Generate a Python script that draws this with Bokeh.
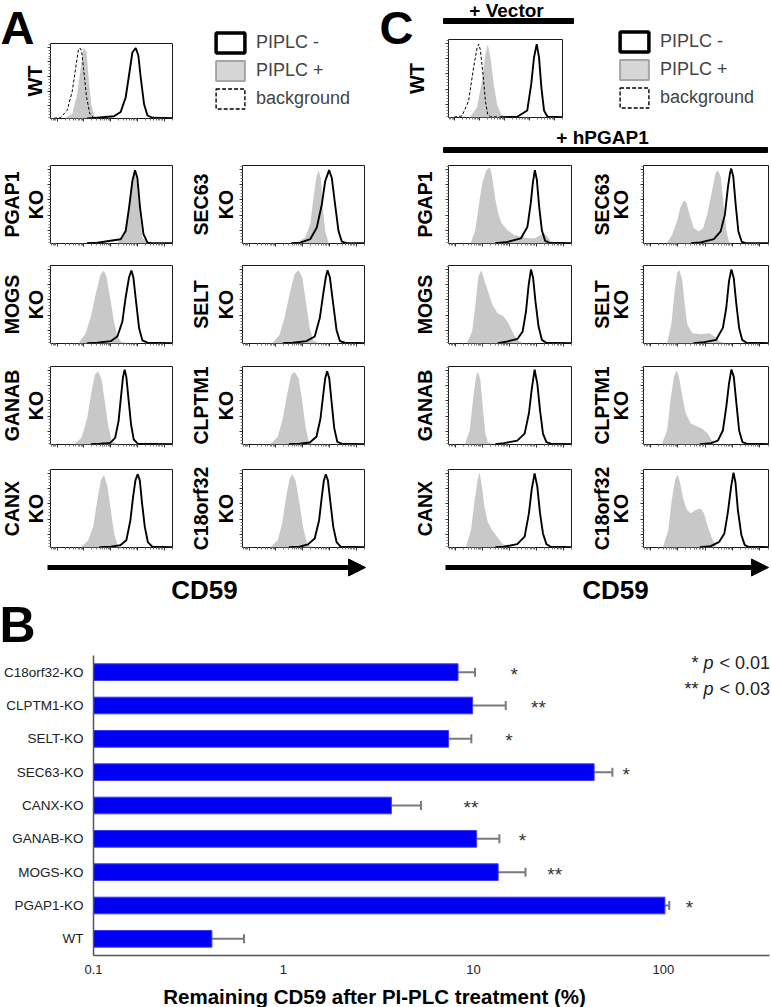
import math
from bokeh.plotting import figure
from bokeh.models import (Range1d, FactorRange, FixedTicker, ColumnDataSource, Whisker,
                          TeeHead, Arrow, NormalHead, Legend, LegendItem, CustomJSTickFormatter)
from bokeh.core.properties import value
from bokeh.embed import file_html
from bokeh.resources import INLINE

# ------------------------------------------------------------------ data: panel B
categories = ["WT", "PGAP1-KO", "MOGS-KO", "GANAB-KO", "CANX-KO",
              "SEC63-KO", "SELT-KO", "CLPTM1-KO", "C18orf32-KO"]
remaining_mean = [0.42, 101.9, 13.5, 10.4, 3.7, 43.2, 7.4, 9.9, 8.3]
remaining_sd = [0.20, 5.5, 5.3, 3.3, 1.6, 10.7, 2.35, 4.9, 1.9]
significance = ["", "*", "**", "*", "**", "*", "*", "**", "*"]
sig_label_x = [None, 137, 26.8, 18.1, 9.7, 63.8, 15.4, 22.0, 16.4]
x_tick_values = [0.1, 1, 10, 100]
p_marks = ["*", "**"]
p_levels = ["< 0.01", "< 0.03"]

# ------------------------------------------------------------------ data: panels A / C
left_rows = ["PGAP1", "MOGS", "GANAB", "CANX"]
right_rows = ["SEC63", "SELT", "CLPTM1", "C18orf32"]
legend_labels = ["PIPLC -", "PIPLC +", "background"]

# curves: (x % of axis, y % of box height)
A_WT_neg = [(30, 0), (38, 1), (52, 3), (57.5, 8.6), (61.6, 28), (64.4, 58), (67.1, 88), (69.9, 94), (72, 84), (74, 54), (76.7, 19), (79.5, 4), (83.6, 1), (100, 0.5)]
A_WT_pos = [(12.3, 1), (17.8, 6), (21.9, 32), (24.7, 66), (26.8, 92), (27.9, 94), (29.6, 88), (31.5, 49), (33.4, 19), (35.6, 4), (39.7, 1)]
A_WT_bg = [(3, 0.5), (8.2, 1), (13.7, 11), (17.8, 36), (20.5, 66), (22.7, 90), (24.1, 94), (25.5, 90), (27.4, 62), (29.6, 28), (32.3, 6), (35.6, 1), (45, 0.5)]

C_WT_bg = [(5, 0.5), (11.8, 2), (17.6, 21), (22, 64), (25, 89), (26.5, 94), (27.9, 87), (30.3, 55), (32.4, 21), (34.4, 4), (36.8, 1), (45, 0.5)]
C_WT_pos = [(19.1, 1), (25, 13), (29.4, 47), (32.4, 81), (34.4, 94), (36.8, 77), (39.7, 43), (42.6, 17), (46.2, 4), (50.9, 1)]
C_WT_neg = [(45, 0.5), (60.3, 1), (69.1, 9), (72.6, 43), (75, 77), (77.4, 94), (79.4, 77), (81.5, 38), (83.8, 9), (86.8, 1), (100, 0.5)]

A_PGAP1_neg = [(30, 0.5), (38.4, 1), (57.5, 5.5), (61.6, 16), (64.4, 46), (67.1, 80), (69.3, 94), (71.2, 84), (73.4, 46), (76.2, 12), (79.5, 1), (83.6, 0.5), (100, 0.5)]
A_PGAP1_pos = [(54.8, 1), (60.3, 10), (63.8, 42), (66.6, 80), (68.5, 94), (70.7, 80), (72.9, 42), (75.3, 8), (79.5, 0.5)]
A_SEC63_neg = [(40, 0.5), (47.3, 1), (55.5, 5.5), (60.9, 20.4), (65, 50), (67.8, 80), (71, 94), (73.2, 84), (75.9, 50), (78.7, 16), (81.4, 2.5), (85.5, 0.5), (100, 0.5)]
A_SEC63_pos = [(44.5, 1), (51.4, 7.7), (55.5, 24.7), (58.2, 59), (60.4, 84), (62.3, 94), (64.2, 84), (65.8, 46), (67.8, 16), (70.5, 1)]
A_MOGS_neg = [(30, 0.5), (38.4, 1), (49.3, 3), (54.8, 9), (58.9, 28), (61.6, 59), (64.4, 85), (66.3, 93.5), (67.9, 85), (70.4, 50), (72.6, 20), (75.3, 4), (79.5, 1), (100, 0.5)]
A_MOGS_pos = [(23.3, 1), (28.8, 13), (32.9, 33), (37, 63), (41.1, 89), (43.8, 93.5), (46, 85), (49.3, 54), (52.1, 28), (54.8, 9), (58.1, 2), (63, 1)]
A_SELT_neg = [(33, 0.5), (41.3, 1), (52.3, 3), (59.2, 9), (63.4, 33), (66.1, 63), (68.3, 85), (69.7, 94), (71.6, 85), (74.4, 50), (77.1, 17), (79.9, 3), (84, 1), (100, 0.5)]
A_SELT_pos = [(24.8, 1), (30.3, 11), (34.4, 33), (38.6, 63), (42.7, 89), (46, 94), (49, 85), (52.3, 50), (55.1, 20), (57.9, 4), (62, 1)]
A_GANAB_neg = [(33, 0.5), (40.6, 1), (48.9, 2), (53, 8.6), (55.8, 30), (57.7, 60), (59.4, 86), (60.8, 96), (62.2, 86), (64.1, 56), (66, 26), (68.2, 6.5), (71.5, 1), (100, 0.5)]
A_GANAB_pos = [(19.9, 1), (25.4, 8.6), (30.1, 34), (33.7, 69), (36.5, 90), (39.2, 94), (42, 82), (44.8, 52), (47.5, 22), (50.3, 4), (54.4, 1)]
A_CLPTM1_neg = [(38, 0.5), (46.8, 1), (55.1, 2.6), (60.6, 10), (63.9, 33), (66.1, 63), (67.8, 85), (69.4, 94), (71.1, 85), (73, 55), (75.2, 21), (77.7, 3.4), (81.3, 1), (100, 0.5)]
A_CLPTM1_pos = [(23.4, 1), (28.9, 10), (33, 33), (36.4, 63), (39.9, 89), (42.7, 93), (46, 85), (49, 55), (51.8, 21), (54.5, 3.4), (57.9, 1)]
A_CANX_neg = [(40, 0.5), (49.4, 1), (57.2, 3), (62.2, 9.4), (65.5, 35), (67.7, 65), (69.6, 86), (71.5, 94), (73.2, 86), (75.1, 56), (77.3, 26.5), (79.8, 7), (83.4, 1), (100, 0.5)]
A_CANX_pos = [(25.4, 1), (30.9, 9.4), (35, 26.5), (38.4, 61), (41.2, 86), (43.9, 93), (46.7, 78), (49.4, 48), (52.2, 18), (55, 3), (58.6, 1)]
A_C18orf32_neg = [(38, 0.5), (46.8, 1), (53.7, 4), (59.2, 11.5), (62.8, 35), (65, 65), (66.7, 86), (68.3, 94), (70, 86), (72.2, 56), (74.4, 26.5), (77.1, 7), (80.4, 1), (100, 0.5)]
A_C18orf32_pos = [(23.4, 1), (28.9, 9.4), (32.5, 31), (35.8, 65), (38.6, 88), (40.8, 94), (43.5, 86), (46.8, 56), (49.6, 26.5), (52.9, 5), (56.5, 1)]

C_PGAP1_neg = [(38, 0.5), (48, 2), (58.8, 6.5), (64.2, 21.5), (66.9, 52), (68.6, 78), (70.2, 94), (71.8, 82), (73.7, 47.4), (75.9, 17), (78.6, 3.4), (81.8, 1), (100, 0.5)]
C_PGAP1_pos = [(18.2, 1), (21.7, 17), (24.9, 52), (27.6, 78), (30.4, 93), (32.2, 96), (33.9, 97), (35.8, 82), (37.7, 60), (40.4, 39), (43.1, 26), (48, 17), (53.4, 11), (61.5, 7.8), (69.6, 6.5), (75, 11), (77.8, 13), (80.5, 8.6), (83.2, 3), (85.9, 1)]
C_SEC63_neg = [(38, 0.5), (45.6, 1.3), (56.3, 5.7), (61.7, 15.4), (65.1, 37), (67.6, 73), (69.2, 90), (70.2, 96), (71.8, 86), (73.7, 50.6), (75.9, 15.4), (78.6, 2.2), (81.8, 0.5), (100, 0.5)]
C_SEC63_pos = [(18.8, 1), (22.8, 11), (26.8, 28.6), (29.5, 46), (32.2, 55), (34.3, 53), (36.9, 37), (40.2, 20), (44.2, 15.4), (47.7, 20), (50.9, 37), (54.9, 68), (57.6, 90), (59.5, 94), (61.7, 86), (64.3, 46), (66.5, 15.4), (68.4, 2), (71, 0.5)]
C_MOGS_neg = [(40, 0.5), (47.9, 2.6), (56.2, 6), (60.3, 15.5), (63, 41), (65.2, 75.5), (67.1, 95), (68.8, 84), (70.7, 54), (73.2, 22), (75.9, 4.7), (79.5, 1), (100, 0.5)]
C_MOGS_pos = [(15.1, 1), (19.2, 15.5), (21.9, 50), (24.1, 84), (26, 93), (27.4, 91), (29.3, 80), (32.1, 67), (35.6, 50), (39.7, 39), (44.7, 35), (47.9, 28), (50.7, 20), (53.4, 11), (56.7, 3.4), (60.3, 1)]
C_SELT_neg = [(40, 0.5), (48.6, 1.7), (58.1, 4.7), (63.5, 20), (66.2, 45.5), (68.4, 80), (70.3, 95), (72.2, 84), (74.3, 50), (76.5, 20), (78.9, 4.7), (82.4, 1), (100, 0.5)]
C_SELT_pos = [(18.9, 1), (22.2, 24), (24.9, 67), (27, 91), (28.9, 94), (31.1, 80), (33, 50), (35.1, 24), (39.2, 13), (45.9, 12), (52.7, 13), (56.8, 9), (60.8, 2.6), (64.9, 1)]
C_GANAB_neg = [(38, 0.5), (45, 1.7), (55.9, 5), (61.9, 14), (65.4, 40), (67.6, 70), (70, 96), (72.2, 78), (74.4, 44), (76.8, 14), (79.6, 3), (83.1, 1), (100, 0.5)]
C_GANAB_pos = [(13.6, 1.7), (17.2, 18), (19.9, 57), (22.3, 87), (24, 93.5), (25.9, 83), (28.1, 44), (30, 14), (31.9, 3), (35.4, 1)]
C_CLPTM1_neg = [(45, 0.5), (54, 1.7), (59.5, 5), (63.5, 18), (66.2, 48), (68.4, 78), (70.3, 96), (72.2, 87), (74.3, 53), (76.5, 18), (79.2, 3), (82.4, 1), (100, 0.5)]
C_CLPTM1_pos = [(14.9, 1.7), (18.9, 18), (21.6, 57), (24.3, 87), (26.5, 95), (28.4, 87), (31.1, 61), (33.8, 40), (37.8, 27), (43.2, 23), (47.3, 20), (51.4, 14), (54.6, 5), (56.8, 1.7)]
C_CANX_neg = [(38, 0.5), (45, 1), (55.9, 4.3), (61.9, 14), (65.4, 44), (67.6, 74), (70, 95), (72.2, 78), (74.4, 44), (76.8, 18), (79.6, 4.3), (83.1, 1), (100, 0.5)]
C_CANX_pos = [(14.4, 1.7), (18.3, 22), (21.3, 61), (23.7, 87), (25.3, 96), (27.2, 78), (29.2, 52), (31.9, 33), (35.4, 22), (39.5, 14), (43.6, 5), (47.7, 1.7)]
C_C18orf32_neg = [(45, 0.5), (53.8, 1.7), (60.6, 7.3), (64.7, 18), (67.4, 44), (70.1, 78), (72, 96), (73.6, 83), (75.5, 48), (78.3, 16), (81, 3), (83.7, 1), (100, 0.5)]
C_C18orf32_pos = [(15.8, 1.7), (19.8, 22), (22.6, 61), (25.3, 87), (27.4, 93.5), (29.3, 82.8), (32, 61), (34.8, 48), (38, 44), (41.6, 48), (45.7, 50), (48.4, 44), (51.6, 26), (55.2, 9.5), (57.9, 1.7)]

A_left = [(A_PGAP1_neg, A_PGAP1_pos), (A_MOGS_neg, A_MOGS_pos), (A_GANAB_neg, A_GANAB_pos), (A_CANX_neg, A_CANX_pos)]
A_right = [(A_SEC63_neg, A_SEC63_pos), (A_SELT_neg, A_SELT_pos), (A_CLPTM1_neg, A_CLPTM1_pos), (A_C18orf32_neg, A_C18orf32_pos)]
C_left = [(C_PGAP1_neg, C_PGAP1_pos), (C_MOGS_neg, C_MOGS_pos), (C_GANAB_neg, C_GANAB_pos), (C_CANX_neg, C_CANX_pos)]
C_right = [(C_SEC63_neg, C_SEC63_pos), (C_SELT_neg, C_SELT_pos), (C_CLPTM1_neg, C_CLPTM1_pos), (C_C18orf32_neg, C_C18orf32_pos)]

# ------------------------------------------------------------------ styling / layout
FONT = "Liberation Sans"
GRAY = "#c8c8c8"
W, H = 771, 1007
ROW_TOPS = [165, 265, 366, 469]
ROW_H = 78


def place(x, y):
    return {"position": "absolute", "left": f"{x}px", "top": f"{y}px"}


# histogram axis ticks (log decades)
DEC = 21.9
x_major = [5.5 + DEC * i for i in range(5)]
x_minor = [m + DEC * math.log10(k) for m in [x_major[0] - DEC] + x_major for k in range(2, 10)]
x_minor = [v for v in x_minor if 0 <= v <= 100]
y_major = [17, 36.5, 56, 75.5, 95]
y_minor = [17 - 3.9 * k for k in range(1, 5)] + [m + 3.9 * k for m in y_major for k in range(1, 5)]
y_minor = [v for v in y_minor if 0 <= v <= 100]
BLANK = CustomJSTickFormatter(code="return '';")


def hist(box, neg, pos=None, bg=None):
    left, top, w, h = box
    bl, bb, bt, br = 14, 14, 2, 2
    p = figure(width=w + bl + br, height=h + bt + bb, x_range=Range1d(0, 100), y_range=Range1d(0, 100),
               min_border_left=bl, min_border_right=br, min_border_top=bt, min_border_bottom=bb,
               toolbar_location=None, output_backend="svg", border_fill_color=None,
               background_fill_color="white", outline_line_color="#1a1a1a", outline_line_width=1,
               styles=place(left - bl, top - bt))
    p.grid.visible = False
    for ax, maj, mnr in ((p.xaxis, x_major, x_minor), (p.yaxis, y_major, y_minor)):
        ax.ticker = FixedTicker(ticks=maj, minor_ticks=mnr)
        ax.formatter = BLANK
        ax.major_label_text_font_size = "2px"
        ax.major_label_standoff = 0
        ax.axis_line_color = None
        ax.major_tick_in = 0
        ax.major_tick_out = 3
        ax.minor_tick_in = 0
        ax.minor_tick_out = 2
        ax.major_tick_line_color = "#333333"
        ax.minor_tick_line_color = "#777777"
    if pos:
        p.varea(x=[q[0] for q in pos], y1=0, y2=[q[1] for q in pos], fill_color=GRAY)
    if bg:
        p.line([q[0] for q in bg], [q[1] for q in bg], line_color="black", line_width=1, line_dash="3 2")
    p.line([q[0] for q in neg], [q[1] for q in neg], line_color="black", line_width=1.9)
    return p


def bare(width, height, left, top, xr, yr):
    p = figure(width=width, height=height, x_range=xr, y_range=yr,
               x_axis_location=None, y_axis_location=None, min_border=0,
               toolbar_location=None, output_backend="svg", outline_line_color=None,
               background_fill_color=None, border_fill_color=None, styles=place(left, top))
    p.grid.visible = False
    return p


def legend_fig(left, top):
    p = bare(170, 90, left, top, Range1d(0, 1), Range1d(0, 1))
    off = [5, 6, 6]  # swatch source shapes lie outside the visible range
    r1 = p.patch(x=off, y=[5, 5, 6], fill_color="white", line_color="black", line_width=3.5)
    r2 = p.patch(x=off, y=[5, 5, 6], fill_color="#d6d6d6", line_color="#a6a6a6", line_width=2)
    r3 = p.patch(x=off, y=[5, 5, 6], fill_color="white", line_color="black", line_width=1.4, line_dash="4 2")
    leg = Legend(items=[LegendItem(label=lab, renderers=[r]) for lab, r in zip(legend_labels, (r1, r2, r3))],
                 location="top_left", glyph_width=36, glyph_height=25, spacing=3, label_standoff=8,
                 label_text_font=FONT, label_text_font_size="18px", padding=0, margin=0,
                 border_line_color=None, background_fill_alpha=0)
    p.add_layout(leg)
    return p


# ------------------------------------------------------------------ decoration canvas
dec = bare(W, H, 0, 0, Range1d(0, W), Range1d(H, 0))


def txt(x, y, s, size, bold=True, angle=0.0, align="center", style=None, color="black"):
    # y is the vertical centre of the text line
    dec.text(x=[x], y=[y], text=[s], angle=angle, text_align=align, text_baseline="middle",
             text_font=value(FONT), text_font_size=f"{size}px",
             text_font_style=style if style else ("bold" if bold else "normal"), text_color=color)


# panel letters
txt(0, 26.5, "A", 47, align="left")
txt(379, 26.5, "C", 47, align="left")
txt(-1, 624, "B", 50, align="left")

# row labels (rotated)
V = math.pi / 2
txt(34, 80.5, "WT", 20, angle=V)
txt(416, 78, "WT", 20, angle=V)
for i in range(4):
    cy = ROW_TOPS[i] + ROW_H / 2
    txt(11, cy, left_rows[i], 19.5, angle=V)
    txt(35.5, cy, "KO", 19.5, angle=V)
    txt(200, cy, right_rows[i], 19.5, angle=V)
    txt(225.5, cy, "KO", 19.5, angle=V)
    txt(424.5, cy, left_rows[i], 19.5, angle=V)
    txt(601.5, cy, right_rows[i], 19.5, angle=V)
    txt(620.5, cy, "KO", 19.5, angle=V)

# panel C headers
txt(506, 9.5, "+ Vector", 19)
dec.quad(left=443, right=573, top=18, bottom=23, color="black")
txt(602, 136.5, "+ hPGAP1", 19)
dec.quad(left=443, right=767, top=147, bottom=152, color="black")

# CD59 arrows
for x0, x1 in ((47, 365), (445, 768)):
    dec.segment(x0=[x0], y0=[567], x1=[x1 - 12], y1=[567], line_width=5, line_color="black")
    dec.add_layout(Arrow(end=NormalHead(size=17, fill_color="black", line_color="black"),
                         x_start=x1 - 16, y_start=567, x_end=x1, y_end=567, line_alpha=0))
txt(204, 589, "CD59", 26)
txt(615, 589, "CD59", 26)

# panel B title and p-value key
txt(374, 996, "Remaining CD59 after PI-PLC treatment (%)", 20.5)
for i, (mk, lv) in enumerate(zip(p_marks, p_levels)):
    cy = 662 + 26.5 * i
    txt(698, cy, mk, 18, bold=False, align="right", color="#222222")
    txt(703, cy, "p", 18, style="italic", align="left", color="#222222")
    txt(719, cy, lv, 18, bold=False, align="left", color="#222222")

# ------------------------------------------------------------------ histograms
hists = [hist((50, 43, 122, 75), A_WT_neg, A_WT_pos, A_WT_bg),
         hist((448, 39, 114, 78), C_WT_neg, C_WT_pos, C_WT_bg)]
for i in range(4):
    hists.append(hist((50, ROW_TOPS[i], 122, ROW_H), *A_left[i]))
    hists.append(hist((242, ROW_TOPS[i], 122, ROW_H), *A_right[i]))
    hists.append(hist((448, ROW_TOPS[i], 123, ROW_H), *C_left[i]))
    hists.append(hist((643, ROW_TOPS[i], 125, ROW_H), *C_right[i]))

legends = [legend_fig(212, 30), legend_fig(616, 29)]

# ------------------------------------------------------------------ panel B bar chart
X_START = 0.1
src = ColumnDataSource(dict(cat=categories, val=remaining_mean,
                            lo=[m - s for m, s in zip(remaining_mean, remaining_sd)],
                            hi=[m + s for m, s in zip(remaining_mean, remaining_sd)]))
pb = figure(width=W, height=367, y_range=FactorRange(factors=categories),
            x_range=Range1d(X_START, 362), x_axis_type="log",
            min_border_left=93, min_border_right=2, min_border_top=15, min_border_bottom=52,
            toolbar_location=None, output_backend="svg", outline_line_color=None,
            background_fill_color=None, border_fill_color=None, styles=place(0, 640))
pb.grid.visible = False
pb.hbar(y="cat", left=X_START, right="val", height=0.5, source=src,
        fill_color="#0000f2", line_color="#3c3cff", line_width=1)
pb.add_layout(Whisker(source=src, base="cat", lower="lo", upper="hi", dimension="width",
                      line_color="#7a7a7a", line_width=2,
                      upper_head=TeeHead(size=9, line_color="#7a7a7a", line_width=2),
                      lower_head=TeeHead(size=9, line_color="#7a7a7a", line_width=2)))
star_src = ColumnDataSource(dict(
    x=[x for x in sig_label_x if x is not None],
    cat=[c for c, x in zip(categories, sig_label_x) if x is not None],
    s=[s for s, x in zip(significance, sig_label_x) if x is not None]))
pb.text(x="x", y="cat", text="s", source=star_src, text_align="center", text_baseline="alphabetic",
        y_offset=2, text_font=value(FONT), text_font_size="19px", text_color="#333333")

pb.xaxis.ticker = FixedTicker(ticks=x_tick_values, minor_ticks=[])
pb.xaxis.formatter = CustomJSTickFormatter(code="return tick < 1 ? tick.toFixed(1) : tick.toFixed(0);")
for ax in (pb.xaxis, pb.yaxis):
    ax.major_tick_in = 0
    ax.major_tick_out = 0
    ax.minor_tick_in = 0
    ax.minor_tick_out = 0
    ax.axis_line_color = "#555555"
    ax.axis_line_width = 1.5
    ax.major_label_text_font = FONT
    ax.major_label_text_color = "#222222"
pb.xaxis.major_label_text_font_size = "13px"
pb.xaxis.major_label_standoff = 9
pb.yaxis.major_label_text_font_size = "13.5px"
pb.yaxis.major_label_standoff = 10

roots = [dec] + hists + legends + [pb]
open("out.html", "w").write(file_html(roots, INLINE))
